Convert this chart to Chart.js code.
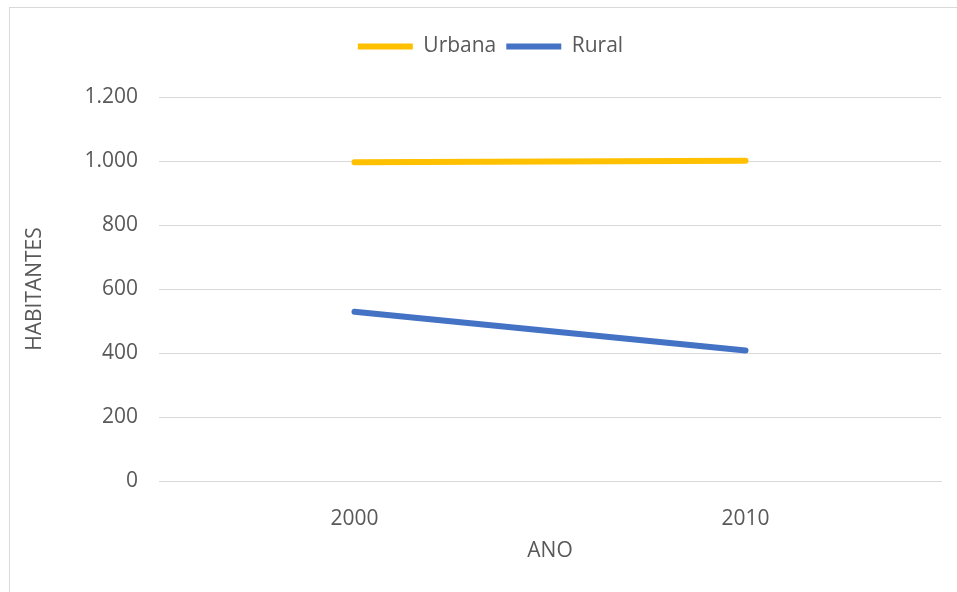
<!DOCTYPE html>
<html>
<head>
<meta charset="utf-8">
<script src="https://cdn.jsdelivr.net/npm/chart.js@4/dist/chart.umd.min.js"></script>
<style>
    html, body { margin: 0; padding: 0; background: #fff; }
    #wrap { position: relative; width: 957px; height: 592px; overflow: hidden; }
    #frame { position: absolute; left: 9px; top: 7px; width: 1000px; height: 700px; border: 1px solid #d9d9d9; }
    #chart { position: absolute; left: 0; top: 0; }
</style>
</head>
<body>
<div id="wrap">
    <div id="frame"></div>
    <canvas id="chart" width="957" height="592"></canvas>
</div>
<script>
/* Habitantes urbana x rural */
(function () {
    'use strict';

    var years   = ['2000', '2010'];
    var urbana  = [996, 1001];
    var rural   = [529, 408];
    var yTicks  = [0, 200, 400, 600, 800, 1000, 1200];

    var TEXT = '#595959';
    var GRID = '#d9d9d9';
    var FONT = "'Open Sans', sans-serif";

    function fmt(v) {
        // pt-BR thousands separator
        return String(v).replace(/\B(?=(\d{3})+(?!\d))/g, '.');
    }

    // fixed legend height so the plot starts where it should,
    // and nudge the legend a bit right like in the original
    var legendTweak = {
        id: 'legendTweak',
        beforeInit: function (chart) {
            var legend = chart.legend;
            var fit = legend.fit;
            var draw = legend.draw;
            legend.fit = function () {
                fit.call(this);
                this.height = 71;
            };
            legend.draw = function () {
                var ctx = this.ctx;
                ctx.save();
                ctx.translate(9, 0);
                draw.apply(this, arguments);
                ctx.restore();
            };
        }
    };

    new Chart(document.getElementById('chart'), {
        type: 'line',
        plugins: [legendTweak],
        data: {
            labels: years,
            datasets: [{
                label: 'Urbana',
                data: urbana,
                borderColor: '#FFC000',
                backgroundColor: '#FFC000',
                borderWidth: 6,
                borderCapStyle: 'round',
                pointRadius: 0,
                pointStyle: 'line',
                tension: 0
            }, {
                label: 'Rural',
                data: rural,
                borderColor: '#4472C4',
                backgroundColor: '#4472C4',
                borderWidth: 6,
                borderCapStyle: 'round',
                pointRadius: 0,
                pointStyle: 'line',
                tension: 0
            }]
        },
        options: {
            responsive: false,
            animation: false,
            layout: { padding: { left: 22, right: 16, top: 26, bottom: 28 } },
            plugins: {
                legend: {
                    position: 'top',
                    labels: {
                        usePointStyle: true,
                        pointStyle: 'line',
                        pointStyleWidth: 55,
                        padding: 10,
                        color: TEXT,
                        font: { family: FONT, size: 21 }
                    }
                },
                tooltip: { enabled: false }
            },
            scales: {
                x: {
                    offset: true,
                    grid: { display: false },
                    border: { color: GRID, width: 1 },
                    ticks: { color: TEXT, padding: 17, font: { family: FONT, size: 21 } },
                    title: {
                        display: true,
                        text: 'ANO',
                        color: TEXT,
                        padding: 0,
                        font: { family: FONT, size: 21 }
                    },
                    afterFit: function (scale) { scale.height = 83; }
                },
                y: {
                    min: 0,
                    max: 1200,
                    afterBuildTicks: function (scale) {
                        scale.ticks = yTicks.map(function (v) { return { value: v }; });
                    },
                    grid: { color: GRID, lineWidth: 1, drawTicks: false },
                    border: { display: false },
                    ticks: {
                        color: TEXT,
                        padding: 21,
                        font: { family: FONT, size: 21 },
                        callback: function (v) { return fmt(v); }
                    },
                    title: {
                        display: true,
                        text: 'HABITANTES',
                        color: TEXT,
                        padding: 0,
                        font: { family: FONT, size: 21 }
                    },
                    afterFit: function (scale) { scale.width = 137; }
                }
            }
        }
    });
}());
</script>
</body>
</html>
